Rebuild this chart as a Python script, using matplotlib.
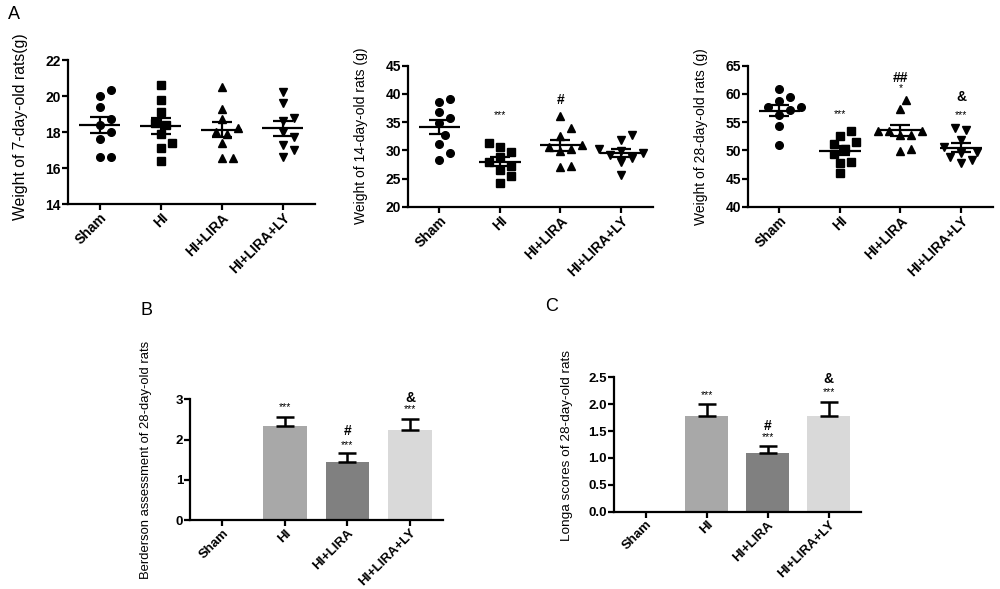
import numpy as np
import matplotlib
matplotlib.use("Agg")
import matplotlib.pyplot as plt

plt.rcParams['font.family'] = ['Liberation Sans', 'DejaVu Sans']

GROUPS = ['Sham', 'HI', 'HI+LIRA', 'HI+LIRA+LY']
MARKERS = ['o', 's', '^', 'v']

# body weights (g), one list per group
w7 = [
    [20.35, 20.0, 19.4, 18.7, 18.4, 18.0, 17.6, 16.6, 16.6],
    [20.6, 19.8, 19.1, 18.5, 18.4, 17.9, 17.4, 17.1, 16.4],
    [20.5, 19.3, 18.7, 18.2, 18.0, 17.9, 17.4, 16.55, 16.55],
    [20.2, 19.6, 18.8, 18.6, 18.0, 17.7, 17.3, 17.0, 16.6],
]
w14 = [
    [39.15, 38.6, 36.8, 35.8, 34.8, 32.8, 31.2, 29.6, 28.3],
    [31.35, 30.6, 29.75, 28.75, 27.9, 27.3, 26.5, 25.5, 24.2],
    [36.0, 33.9, 32.6, 31.0, 30.6, 30.2, 29.8, 27.3, 27.0],
    [32.8, 31.8, 30.3, 29.8, 29.5, 29.2, 28.7, 27.9, 25.7],
]
w28 = [
    [60.8, 59.45, 58.7, 57.7, 57.6, 57.1, 56.25, 54.35, 50.9],
    [53.4, 52.6, 51.4, 51.1, 50.3, 49.3, 47.9, 47.8, 45.9],
    [58.9, 57.3, 53.5, 53.5, 53.5, 52.8, 52.7, 50.2, 49.9],
    [54.0, 53.65, 51.9, 50.6, 49.75, 49.5, 48.9, 48.2, 47.7],
]
w_ylabels = ['Weight of 7-day-old rats(g)', 'Weight of 14-day-old rats (g)',
             'Weight of 28-day-old rats (g)']
w_ylims = [(14, 22), (20, 45), (40, 65)]
w_yticks = [[14, 16, 18, 20, 22], [20, 25, 30, 35, 40, 45], [40, 45, 50, 55, 60, 65]]
# significance marks: (group index, y value, text)
w_marks = [
    [],
    [(1, 36.3, '***'), (2, 38.9, '#')],
    [(1, 56.5, '***'), (2, 62.9, '##'), (2, 61.0, '*'), (3, 59.4, '&'), (3, 56.3, '***')],
]

# neurological scores, mean and SEM
bederson_mean = [0.0, 2.34, 1.44, 2.23]
bederson_sem = [0.0, 0.23, 0.23, 0.27]
longa_mean = [0.0, 1.78, 1.10, 1.78]
longa_sem = [0.0, 0.22, 0.12, 0.27]
bar_colors = ['#b0b0b0', '#a8a8a8', '#808080', '#d9d9d9']
bederson_marks = [(1, 2.80, '***'), (2, 2.22, '#'), (2, 1.87, '***'), (3, 3.03, '&'), (3, 2.75, '***')]
longa_marks = [(1, 2.17, '***'), (2, 1.59, '#'), (2, 1.38, '***'), (3, 2.46, '&'), (3, 2.22, '***')]

FIG_W, FIG_H = 1000, 589
fig = plt.figure(figsize=(10, 5.89), dpi=100)

weight_pos = [
    [0.068, 0.6536, 0.247, 0.2445],
    [0.408, 0.649, 0.245, 0.2394],
    [0.748, 0.649, 0.245, 0.2394],
]
bar_pos = [
    [0.190, 0.1171, 0.253, 0.2049],
    [0.614, 0.1312, 0.247, 0.2282],
]
# ylabel font size and (x, y) in axes fraction
w_label_style = [(11.3, -0.162, 0.54), (10, -0.163, 0.5), (10, -0.163, 0.5)]
bar_label_style = [(9.4, -0.150, 0.5), (9.7, -0.166, 0.49)]
XLIM = (-0.52, 3.53)


def style_axes(ax, size=10):
    for s in ['top', 'right']:
        ax.spines[s].set_visible(False)
    for s in ['left', 'bottom']:
        ax.spines[s].set_linewidth(1.6)
    ax.tick_params(width=1.6, length=4, labelsize=size, pad=1)
    ax.set_xticks(range(len(GROUPS)))
    ax.set_xticklabels(GROUPS, rotation=45, ha='right', rotation_mode='anchor',
                       fontweight='bold')
    for lab in ax.get_yticklabels():
        lab.set_fontweight('bold')
    ax.set_xlim(*XLIM)


def swarm(vals, px_per_unit, px_per_cat, d=10.0):
    # simple beeswarm: place each point at the nearest free horizontal slot
    vals = np.asarray(vals, dtype=float)
    offs = np.zeros(len(vals))
    placed = []
    for i in np.argsort(vals):
        y = vals[i] * px_per_unit
        for k in [0, 1, -1, 2, -2, 3, -3, 4, -4, 5, -5]:
            x = k * d * 0.55
            if all((x - px) ** 2 + (y - py) ** 2 >= d ** 2 for px, py in placed):
                break
        placed.append((x, y))
        offs[i] = x / px_per_cat
    return offs


for k, data in enumerate([w7, w14, w28]):
    ax = fig.add_axes(weight_pos[k])
    lo, hi = w_ylims[k]
    ax.set_ylim(lo, hi)
    ax.set_yticks(w_yticks[k])
    px_unit = weight_pos[k][3] * FIG_H / (hi - lo)
    px_cat = weight_pos[k][2] * FIG_W / (XLIM[1] - XLIM[0])
    for g, vals in enumerate(data):
        vals = np.array(vals)
        xs = g + swarm(vals, px_unit, px_cat)
        ax.plot(xs, vals, ls='none', marker=MARKERS[g], color='black', ms=5.5)
        m = vals.mean()
        sem = vals.std(ddof=1) / np.sqrt(len(vals))
        ax.hlines(m, g - 0.34, g + 0.34, color='black', lw=1.6)
        ax.errorbar(g, m, yerr=sem, fmt='none', ecolor='black', elinewidth=1.6,
                    capsize=7.5, capthick=1.6)
    for g, y, t in w_marks[k]:
        big = t != '***' and t != '*'
        ax.text(g, y, t, ha='center', va='center', fontsize=10 if big else 7.5,
                fontweight='bold' if big else 'normal')
    fs, lx, ly = w_label_style[k]
    ax.set_ylabel(w_ylabels[k], fontsize=fs)
    ax.yaxis.set_label_coords(lx, ly)
    style_axes(ax)

bar_info = [
    (bederson_mean, bederson_sem, bederson_marks, 'Berderson assessment of 28-day-old rats',
     (0, 3), [0, 1, 2, 3]),
    (longa_mean, longa_sem, longa_marks, 'Longa scores of 28-day-old rats',
     (0, 2.5), [0.0, 0.5, 1.0, 1.5, 2.0, 2.5]),
]
for k, (means, sems, marks, ylab, ylim, yticks) in enumerate(bar_info):
    ax = fig.add_axes(bar_pos[k])
    x = np.arange(len(GROUPS))
    ax.bar(x, means, width=0.7, color=bar_colors, zorder=2)
    ax.errorbar(x[1:], means[1:], yerr=[np.zeros(3), sems[1:]], fmt='none',
                ecolor='black', elinewidth=1.8, capsize=6.5, capthick=1.8, zorder=3)
    for g, y, t in marks:
        big = t != '***'
        ax.text(g, y, t, ha='center', va='center', fontsize=10 if big else 7.5,
                fontweight='bold' if big else 'normal')
    ax.set_ylim(*ylim)
    ax.set_yticks(yticks)
    if k == 1:
        ax.set_yticklabels(['%.1f' % v for v in yticks])
    fs, lx, ly = bar_label_style[k]
    ax.set_ylabel(ylab, fontsize=fs)
    ax.yaxis.set_label_coords(lx, ly)
    style_axes(ax, size=9.5)

fig.text(0.008, 0.976, 'A', fontsize=13, va='center')
fig.text(0.140, 0.473, 'B', fontsize=13, va='center')
fig.text(0.545, 0.479, 'C', fontsize=13, va='center')

fig.savefig('out.png', dpi=100, facecolor='white')
